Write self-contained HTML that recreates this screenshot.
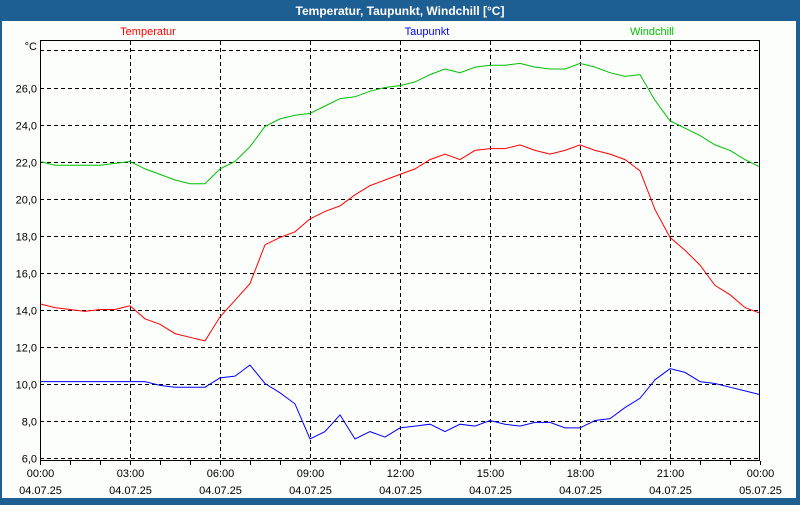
<!DOCTYPE html>
<html><head><meta charset="utf-8">
<style>
body{margin:0;width:800px;height:500px;overflow:hidden;background:#1e5f93;font-family:"Liberation Sans",sans-serif;}
#win{position:absolute;left:0;top:0;width:800px;height:500px;}
</style></head>
<body>
<div id="win">
<svg id="chart" width="800" height="500" xmlns="http://www.w3.org/2000/svg" font-family="Liberation Sans, sans-serif">
<rect x="0" y="0" width="800" height="500" fill="#1e5f93"/>
<rect x="2" y="21" width="794" height="477" fill="#fcfefc"/>
<text x="400" y="15" text-anchor="middle" fill="#fff" font-size="12" font-weight="bold">Temperatur, Taupunkt, Windchill [°C]</text>
<text x="148" y="35" text-anchor="middle" fill="#ff0000" font-size="11">Temperatur</text>
<text x="427" y="35" text-anchor="middle" fill="#0000ff" font-size="11">Taupunkt</text>
<text x="652" y="35" text-anchor="middle" fill="#00c000" font-size="11">Windchill</text>
<text x="37" y="50" text-anchor="end" fill="#000" font-size="11">°C</text>
<g id="grid"></g>
<g id="series"></g>
<rect x="40.5" y="40.5" width="719" height="420" fill="none" stroke="#000" stroke-width="1"/>
<g id="axes"></g>
</svg>
</div>
<script>
const yTicks = [6,8,10,12,14,16,18,20,22,24,26];
const xTickTimes = ["00:00","03:00","06:00","09:00","12:00","15:00","18:00","21:00","00:00"];
const xTickDates = ["04.07.25","04.07.25","04.07.25","04.07.25","04.07.25","04.07.25","04.07.25","04.07.25","05.07.25"];
const hours = [0,0.5,1,1.5,2,2.5,3,3.5,4,4.5,5,5.5,6,6.5,7,7.5,8,8.5,9,9.5,10,10.5,11,11.5,12,12.5,13,13.5,14,14.5,15,15.5,16,16.5,17,17.5,18,18.5,19,19.5,20,20.5,21,21.5,22,22.5,23,23.5,24];
const temperatur = [14.3,14.1,14.0,13.9,14.0,14.0,14.2,13.5,13.2,12.7,12.5,12.3,13.6,14.5,15.4,17.5,17.9,18.2,18.9,19.3,19.6,20.2,20.7,21.0,21.3,21.6,22.1,22.4,22.1,22.6,22.7,22.7,22.9,22.6,22.4,22.6,22.9,22.6,22.4,22.1,21.5,19.4,17.9,17.2,16.4,15.3,14.8,14.1,13.8];
const taupunkt = [10.1,10.1,10.1,10.1,10.1,10.1,10.1,10.1,9.9,9.8,9.8,9.8,10.3,10.4,11.0,10.0,9.5,8.9,7.0,7.4,8.3,7.0,7.4,7.1,7.6,7.7,7.8,7.4,7.8,7.7,8.0,7.8,7.7,7.9,7.9,7.6,7.6,8.0,8.1,8.7,9.2,10.2,10.8,10.6,10.1,10.0,9.8,9.6,9.4];
const windchill = [22.0,21.8,21.8,21.8,21.8,21.9,22.0,21.6,21.3,21.0,20.8,20.8,21.6,22.0,22.8,23.9,24.3,24.5,24.6,25.0,25.4,25.5,25.8,26.0,26.1,26.3,26.7,27.0,26.8,27.1,27.2,27.2,27.3,27.1,27.0,27.0,27.3,27.1,26.8,26.6,26.7,25.3,24.2,23.8,23.4,22.9,22.6,22.1,21.7];

const NS="http://www.w3.org/2000/svg";
const X0=40,X1=760;
function xs(h){return X0+(X1-X0)*h/24;}
function ys(v){return 457.5-(v-6)*18.5;}
const grid=document.getElementById('grid'),axes=document.getElementById('axes'),series=document.getElementById('series');
function line(p,x1,y1,x2,y2,dash){const l=document.createElementNS(NS,'line');l.setAttribute('x1',x1);l.setAttribute('y1',y1);l.setAttribute('x2',x2);l.setAttribute('y2',y2);l.setAttribute('stroke','#000');if(dash)l.setAttribute('stroke-dasharray','4,3');p.appendChild(l);return l;}
function text(p,x,y,s,anchor){const t=document.createElementNS(NS,'text');t.setAttribute('x',x);t.setAttribute('y',y);t.setAttribute('font-size','11');t.setAttribute('fill','#000');t.setAttribute('text-anchor',anchor);t.textContent=s;p.appendChild(t);return t;}
let g0=line(grid,X0,50.5,X1-2,50.5,true);


yTicks.forEach(v=>{
  const y=Math.round(ys(v))+0.5;
  const g=line(grid,X0,y,X1-2,y,true);
  
  
  const t=text(axes,37,y+4,v.toFixed(1).replace('.',','),'end');
  
  
});
xTickTimes.forEach((s,i)=>{
  const x=Math.round(xs(i*3))+0.5;
  if(i>0&&i<8){const g=line(grid,x,41,x,460,true);
    
    }
  const t1=text(axes,x,477,s,'middle');
  
  
  const t2=text(axes,x,494,xTickDates[i],'middle');
  
  
});
for(let h=0;h<=24;h++){
  const x=Math.round(xs(h))+0.5;
  const tk=line(axes,x,461,x,465,false);
  
  
}
function plot(vals,color,name){
  const p=document.createElementNS(NS,'polyline');
  p.setAttribute('points',vals.map((v,i)=>xs(hours[i]).toFixed(1)+','+ys(v).toFixed(1)).join(' '));
  p.setAttribute('fill','none');p.setAttribute('stroke',color);p.setAttribute('stroke-width','1');
  
  
  series.appendChild(p);
}
plot(windchill,'#00c000','windchill-line');
plot(temperatur,'#ff0000','temperatur-line');
plot(taupunkt,'#0000ff','taupunkt-line');
</script>
</body></html>
